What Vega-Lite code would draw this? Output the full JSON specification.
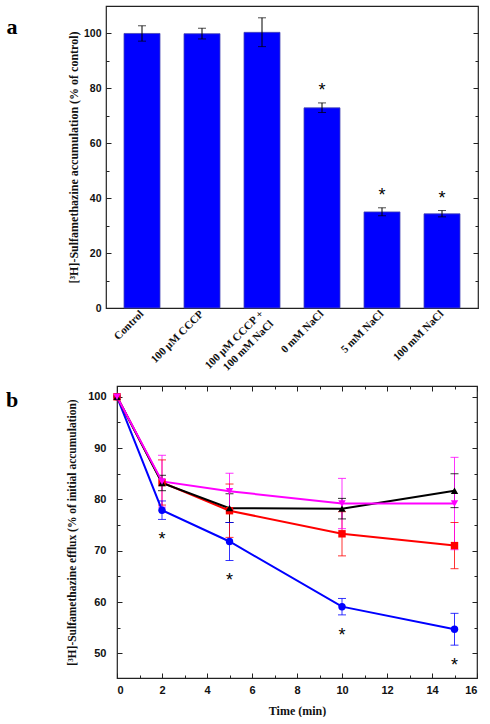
{
  "$schema": "https://vega.github.io/schema/vega-lite/v6.json",
  "background": "white",
  "padding": {"left": 0, "top": 5, "right": 5, "bottom": 0},
  "spacing": 2,
  "config": {
    "view": {"stroke": "#222", "strokeWidth": 1.2},
    "axis": {"domain": false, "grid": false, "tickColor": "#222", "tickWidth": 1, "labelColor": "#111", "titleColor": "#111", "labelFont": "Liberation Sans", "labelFontWeight": "bold", "titleFont": "Liberation Serif", "titleFontWeight": "bold"}
  },
  "vconcat": [
    {
      "spacing": 42,
      "hconcat": [
        {
          "width": 24, "height": 42,
          "view": {"stroke": null},
          "data": {"values": [{"lab": "a"}]},
          "mark": {"type": "text", "font": "Liberation Serif", "fontWeight": "bold", "fontSize": 22, "color": "#000"},
          "encoding": {"text": {"field": "lab"}}
        },
        {
          "width": 372, "height": 302,
          "data": {"values": [
            {"cond": "Control", "value": 100, "lo": 97.2, "hi": 102.8, "star": ""},
            {"cond": "100 µM CCCP", "value": 99.9, "lo": 98.0, "hi": 101.9, "star": ""},
            {"cond": "100 µM CCCP +|100 mM NaCl", "value": 100.4, "lo": 95.2, "hi": 105.7, "star": ""},
            {"cond": "0 mM NaCl", "value": 72.9, "lo": 71.2, "hi": 74.7, "star": "*"},
            {"cond": "5 mM NaCl", "value": 35.0, "lo": 33.6, "hi": 36.5, "star": "*"},
            {"cond": "100 mM NaCl", "value": 34.3, "lo": 33.2, "hi": 35.5, "star": "*"}
          ]},
          "encoding": {
            "x": {"field": "cond", "type": "nominal", "sort": null,
              "scale": {"paddingInner": 0.4, "paddingOuter": 0.3},
              "axis": {"title": null, "ticks": false, "labelAngle": -45, "labelAlign": "right", "labelBaseline": "middle", "labelFont": "Liberation Serif", "labelFontSize": 11, "labelPadding": 4, "labelLineHeight": 14, "labelExpr": "split(datum.label, '|')"}}
          },
          "layer": [
            {
              "mark": {"type": "bar", "color": "#0000ff", "stroke": "#4646b4", "strokeWidth": 0.8},
              "encoding": {"y": {"field": "value", "type": "quantitative", "scale": {"domain": [0, 110], "nice": false},
                "axis": {"orient": "left", "title": "[³H]-Sulfamethazine accumulation (% of control)", "values": [0, 20, 40, 60, 80, 100], "tickSize": -5, "labelPadding": 10, "labelFontSize": 10.5, "titleFontSize": 12, "titlePadding": 3}}}
            },
            {
              "mark": {"type": "rule", "color": "#000", "strokeWidth": 1},
              "encoding": {
                "y": {"field": "lo", "type": "quantitative", "axis": {"orient": "left", "values": [10, 30, 50, 70, 90], "tickSize": -3, "labels": false, "title": null}},
                "y2": {"field": "hi"}
              }
            },
            {
              "mark": {"type": "tick", "orient": "horizontal", "size": 8, "thickness": 1, "color": "#000"},
              "encoding": {"y": {"field": "lo", "type": "quantitative", "axis": {"orient": "right", "values": [0, 20, 40, 60, 80, 100], "tickSize": -5, "labels": false, "title": null}}}
            },
            {
              "mark": {"type": "tick", "orient": "horizontal", "size": 8, "thickness": 1, "color": "#000"},
              "encoding": {"y": {"field": "hi", "type": "quantitative", "axis": {"orient": "right", "values": [10, 30, 50, 70, 90], "tickSize": -3, "labels": false, "title": null}}}
            },
            {
              "transform": [{"filter": "datum.star == '*'"}],
              "mark": {"type": "text", "font": "Liberation Sans", "fontSize": 18, "baseline": "alphabetic", "dy": -7, "color": "#000"},
              "encoding": {"y": {"field": "hi", "type": "quantitative", "axis": null}, "text": {"field": "star"}}
            }
          ],
          "resolve": {"axis": {"y": "independent"}}
        }
      ]
    },
    {
      "spacing": 42,
      "hconcat": [
        {
          "width": 24, "height": 27,
          "view": {"stroke": null},
          "data": {"values": [{"lab": "b"}]},
          "mark": {"type": "text", "font": "Liberation Serif", "fontWeight": "bold", "fontSize": 22, "color": "#000"},
          "encoding": {"text": {"field": "lab"}}
        },
        {
          "width": 360, "height": 292,
          "data": {"values": [
            {"series": "blue", "t": 0, "v": 100, "lo": null, "hi": null, "star": ""},
            {"series": "blue", "t": 2, "v": 77.9, "lo": 76.1, "hi": 79.7, "star": "*"},
            {"series": "blue", "t": 5, "v": 71.8, "lo": 68.1, "hi": 75.5, "star": "*"},
            {"series": "blue", "t": 10, "v": 59.1, "lo": 57.5, "hi": 60.7, "star": "*"},
            {"series": "blue", "t": 15, "v": 54.7, "lo": 51.6, "hi": 57.8, "star": "*"},
            {"series": "red", "t": 0, "v": 100, "lo": null, "hi": null, "star": ""},
            {"series": "red", "t": 2, "v": 83.3, "lo": 78.9, "hi": 87.7, "star": ""},
            {"series": "red", "t": 5, "v": 77.8, "lo": 72.6, "hi": 83.0, "star": ""},
            {"series": "red", "t": 10, "v": 73.3, "lo": 69.0, "hi": 77.6, "star": ""},
            {"series": "red", "t": 15, "v": 71.0, "lo": 66.5, "hi": 75.5, "star": ""},
            {"series": "black", "t": 0, "v": 100, "lo": null, "hi": null, "star": ""},
            {"series": "black", "t": 2, "v": 83.2, "lo": 81.7, "hi": 84.7, "star": ""},
            {"series": "black", "t": 5, "v": 78.3, "lo": 75.5, "hi": 81.1, "star": ""},
            {"series": "black", "t": 10, "v": 78.2, "lo": 76.2, "hi": 80.2, "star": ""},
            {"series": "black", "t": 15, "v": 81.7, "lo": 78.4, "hi": 85.0, "star": ""},
            {"series": "magenta", "t": 0, "v": 100, "lo": null, "hi": null, "star": ""},
            {"series": "magenta", "t": 2, "v": 83.5, "lo": 78.5, "hi": 88.6, "star": ""},
            {"series": "magenta", "t": 5, "v": 81.6, "lo": 78.1, "hi": 85.1, "star": ""},
            {"series": "magenta", "t": 10, "v": 79.2, "lo": 74.3, "hi": 84.1, "star": ""},
            {"series": "magenta", "t": 15, "v": 79.2, "lo": 70.2, "hi": 88.2, "star": ""}
          ]},
          "encoding": {
            "color": {"field": "series", "type": "nominal", "scale": {"domain": ["blue", "red", "black", "magenta"], "range": ["#0000ff", "#ff0000", "#000000", "#ff00ff"]}, "legend": null}
          },
          "layer": [
            {
              "mark": {"type": "rule", "strokeWidth": 1, "opacity": 0.8},
              "encoding": {
                "x": {"field": "t", "type": "quantitative", "scale": {"domain": [0, 16], "nice": false}, "axis": {"orient": "top", "values": [0, 2, 4, 6, 8, 10, 12, 14, 16], "tickSize": -5, "labels": false, "title": null}},
                "y": {"field": "lo", "type": "quantitative", "axis": {"orient": "right", "values": [50, 60, 70, 80, 90, 100], "tickSize": -5, "labels": false, "title": null}},
                "y2": {"field": "hi"}
              }
            },
            {
              "mark": {"type": "tick", "orient": "horizontal", "size": 8, "thickness": 1, "opacity": 0.8},
              "encoding": {
                "x": {"field": "t", "type": "quantitative", "axis": {"orient": "top", "values": [1, 3, 5, 7, 9, 11, 13, 15], "tickSize": -3, "labels": false, "title": null}},
                "y": {"field": "lo", "type": "quantitative", "axis": {"orient": "right", "values": [55, 65, 75, 85, 95], "tickSize": -3, "labels": false, "title": null}}
              }
            },
            {
              "mark": {"type": "tick", "orient": "horizontal", "size": 8, "thickness": 1, "opacity": 0.8},
              "encoding": {
                "x": {"field": "t", "type": "quantitative", "axis": null},
                "y": {"field": "hi", "type": "quantitative", "axis": null}
              }
            },
            {
              "mark": {"type": "line", "strokeWidth": 2},
              "encoding": {
                "x": {"field": "t", "type": "quantitative", "axis": {"orient": "bottom", "values": [0, 2, 4, 6, 8, 10, 12, 14, 16], "tickSize": -5, "labelPadding": 11, "labelFontSize": 11, "title": "Time (min)", "titleFontSize": 12, "titlePadding": 10}},
                "y": {"field": "v", "type": "quantitative", "scale": {"domain": [45.2, 102.1], "nice": false, "zero": false},
                  "axis": {"orient": "left", "values": [50, 60, 70, 80, 90, 100], "tickSize": -5, "labelPadding": 16, "labelFontSize": 11, "title": "[³H]-Sulfamethazine efflux (% of initial accumulation)", "titleFontSize": 11.5, "titlePadding": 10}}
              }
            },
            {
              "mark": {"type": "point", "filled": true, "opacity": 1, "size": 55},
              "encoding": {
                "x": {"field": "t", "type": "quantitative", "axis": {"orient": "bottom", "values": [1, 3, 5, 7, 9, 11, 13, 15], "tickSize": -3, "labels": false, "title": null}},
                "y": {"field": "v", "type": "quantitative", "axis": {"orient": "left", "values": [55, 65, 75, 85, 95], "tickSize": -3, "labels": false, "title": null}},
                "shape": {"field": "series", "type": "nominal", "scale": {"domain": ["blue", "red", "black", "magenta"], "range": ["circle", "square", "triangle-up", "triangle-down"]}, "legend": null}
              }
            },
            {
              "transform": [{"filter": "datum.star == '*'"}],
              "mark": {"type": "text", "font": "Liberation Sans", "fontSize": 18, "baseline": "alphabetic", "dy": 26, "color": "#000"},
              "encoding": {
                "x": {"field": "t", "type": "quantitative", "axis": null},
                "y": {"field": "lo", "type": "quantitative", "axis": null},
                "text": {"field": "star"},
                "color": {"value": "#000"}
              }
            }
          ],
          "resolve": {"axis": {"x": "independent", "y": "independent"}}
        }
      ]
    }
  ]
}
